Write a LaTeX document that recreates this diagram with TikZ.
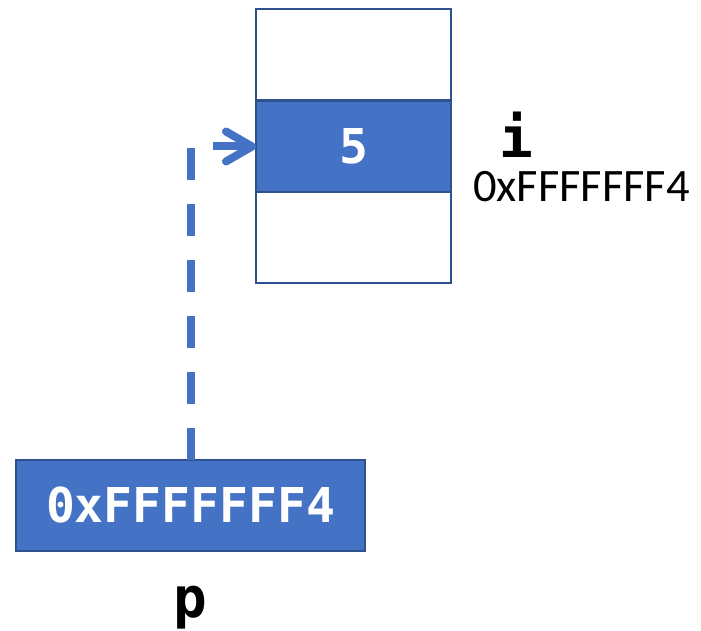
\documentclass[tikz,border=0pt]{standalone}
\usepackage{fontspec}
\usetikzlibrary{arrows.meta}
\newfontfamily\monofont{DejaVu Sans Mono}
\newfontfamily\calfont{Carlito}
\definecolor{boxblue}{HTML}{4472C4}
\definecolor{edgeblue}{HTML}{2F528F}
\begin{document}
\begin{tikzpicture}[x=1pt,y=-1pt,
  cell/.style={draw=edgeblue,line width=2pt,minimum width=195pt,minimum height=91pt,inner sep=0pt,outer sep=0pt},
  fullcell/.style={cell,fill=boxblue,text=white,font=\monofont\bfseries\fontsize{48}{56}\selectfont},
  emptycell/.style={cell,fill=white},
  namelabel/.style={inner sep=0pt,anchor=base,font=\monofont\bfseries\fontsize{56}{64}\selectfont},
  addrlabel/.style={inner sep=0pt,anchor=base,font=\calfont\fontsize{46.5}{54}\selectfont},
  pointer/.style={boxblue,line width=8pt,dash pattern=on 32pt off 24pt,-{Straight Barb[length=26pt,width=30pt,round]}}
]
\useasboundingbox (0,0) rectangle (701,631);
\node[emptycell] (top) at (353.5,55) {};
\node[fullcell] (mid) at (353.5,146.5) {5};
\node[emptycell] (bot) at (353.5,237.5) {};
\node[fullcell,minimum width=349pt] (pbox) at (190.5,505.5) {0xFFFFFFF4};
\node[namelabel] (ilabel) at (516,158) {i};
\node[addrlabel] (ilabeladdr) at (581.5,201) {0xFFFFFFF4};
\node[namelabel] (plabel) at (190.5,617) {p};
\draw[pointer] (pbox.north) |- (mid.west);
\end{tikzpicture}
\end{document}
